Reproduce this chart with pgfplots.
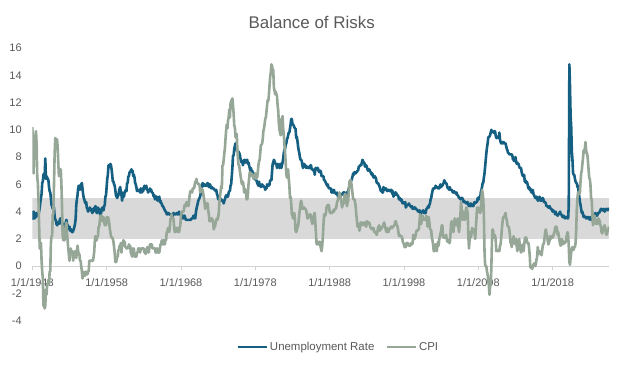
\documentclass[border=0pt]{standalone}
\usepackage{pgfplots}
\usepackage{pgfplotstable}
\pgfplotsset{compat=1.18}
\usepackage{fontspec}
\setmainfont{Liberation Sans}
\definecolor{unemp}{RGB}{21,96,130}
\definecolor{cpi}{RGB}{150,166,151}
\definecolor{band}{RGB}{217,217,217}
\definecolor{txt}{RGB}{89,89,89}
\definecolor{axln}{RGB}{210,210,210}

% Monthly US unemployment rate, Jan 1948 - Aug 2025
\pgfplotstableread[row sep=\\]{
v\\
3.4\\3.8\\4.0\\3.9\\3.5\\3.6\\3.6\\3.9\\3.8\\3.7\\3.8\\4.0\\
4.3\\4.7\\5.0\\5.3\\6.1\\6.2\\6.7\\6.8\\6.6\\7.9\\6.4\\6.6\\
6.5\\6.4\\6.3\\5.8\\5.5\\5.4\\5.0\\4.5\\4.4\\4.2\\4.2\\4.3\\
3.7\\3.4\\3.4\\3.1\\3.0\\3.2\\3.1\\3.1\\3.3\\3.5\\3.5\\3.1\\
3.2\\3.1\\2.9\\2.9\\3.0\\3.0\\3.2\\3.4\\3.1\\3.0\\2.8\\2.7\\
2.9\\2.6\\2.6\\2.7\\2.5\\2.5\\2.6\\2.7\\2.9\\3.1\\3.5\\4.5\\
4.9\\5.2\\5.7\\5.9\\5.9\\5.6\\5.8\\6.0\\6.1\\5.7\\5.3\\5.0\\
4.9\\4.7\\4.6\\4.7\\4.3\\4.2\\4.0\\4.2\\4.1\\4.3\\4.2\\4.2\\
4.0\\3.9\\4.2\\4.0\\4.3\\4.3\\4.4\\4.1\\3.9\\3.9\\4.3\\4.2\\
4.2\\3.9\\3.7\\3.9\\4.1\\4.3\\4.2\\4.1\\4.4\\4.5\\5.1\\5.2\\
5.8\\6.4\\6.7\\7.4\\7.4\\7.3\\7.5\\7.4\\7.1\\6.7\\6.2\\6.2\\
6.0\\5.9\\5.6\\5.2\\5.1\\5.0\\5.1\\5.2\\5.5\\5.7\\5.8\\5.3\\
5.2\\4.8\\5.4\\5.2\\5.1\\5.4\\5.5\\5.6\\5.5\\6.1\\6.1\\6.6\\
6.6\\6.9\\6.9\\7.0\\7.1\\6.9\\7.0\\6.6\\6.7\\6.5\\6.1\\6.0\\
5.8\\5.5\\5.6\\5.6\\5.5\\5.5\\5.4\\5.7\\5.6\\5.4\\5.7\\5.5\\
5.7\\5.9\\5.7\\5.7\\5.9\\5.6\\5.6\\5.4\\5.5\\5.5\\5.7\\5.5\\
5.6\\5.4\\5.4\\5.3\\5.1\\5.2\\4.9\\5.0\\5.1\\5.1\\4.8\\5.0\\
4.9\\5.1\\4.7\\4.8\\4.6\\4.6\\4.4\\4.4\\4.3\\4.2\\4.1\\4.0\\
4.0\\3.8\\3.8\\3.8\\3.9\\3.8\\3.8\\3.8\\3.7\\3.7\\3.6\\3.8\\
3.9\\3.8\\3.8\\3.8\\3.8\\3.9\\3.8\\3.8\\3.8\\4.0\\3.9\\3.8\\
3.7\\3.8\\3.7\\3.5\\3.5\\3.7\\3.7\\3.5\\3.4\\3.4\\3.4\\3.4\\
3.4\\3.4\\3.4\\3.4\\3.4\\3.5\\3.5\\3.5\\3.7\\3.7\\3.5\\3.5\\
3.9\\4.2\\4.4\\4.6\\4.8\\4.9\\5.0\\5.1\\5.4\\5.5\\5.9\\6.1\\
5.9\\5.9\\6.0\\5.9\\5.9\\5.9\\6.0\\6.1\\6.0\\5.8\\6.0\\6.0\\
5.8\\5.7\\5.8\\5.7\\5.7\\5.7\\5.6\\5.6\\5.5\\5.6\\5.3\\5.2\\
4.9\\5.0\\4.9\\5.0\\4.9\\4.9\\4.8\\4.8\\4.8\\4.6\\4.8\\4.9\\
5.1\\5.2\\5.1\\5.1\\5.1\\5.4\\5.5\\5.5\\5.9\\6.0\\6.6\\7.2\\
8.1\\8.1\\8.6\\8.8\\9.0\\8.8\\8.6\\8.4\\8.4\\8.4\\8.3\\8.2\\
7.9\\7.7\\7.6\\7.7\\7.4\\7.6\\7.8\\7.8\\7.6\\7.7\\7.8\\7.8\\
7.5\\7.6\\7.4\\7.2\\7.0\\7.2\\6.9\\7.0\\6.8\\6.8\\6.8\\6.4\\
6.4\\6.3\\6.3\\6.1\\6.0\\5.9\\6.2\\5.9\\6.0\\5.8\\5.9\\6.0\\
5.9\\5.9\\5.8\\5.8\\5.6\\5.7\\5.7\\6.0\\5.9\\6.0\\5.9\\6.0\\
6.3\\6.3\\6.3\\6.9\\7.5\\7.6\\7.8\\7.7\\7.5\\7.5\\7.5\\7.2\\
7.5\\7.4\\7.4\\7.2\\7.5\\7.5\\7.2\\7.4\\7.6\\7.9\\8.3\\8.5\\
8.6\\8.9\\9.0\\9.3\\9.4\\9.6\\9.8\\9.8\\10.1\\10.4\\10.8\\10.8\\
10.4\\10.4\\10.3\\10.2\\10.1\\10.1\\9.4\\9.5\\9.2\\8.8\\8.5\\8.3\\
8.0\\7.8\\7.8\\7.7\\7.4\\7.2\\7.5\\7.5\\7.3\\7.4\\7.2\\7.3\\
7.3\\7.2\\7.2\\7.3\\7.2\\7.4\\7.4\\7.1\\7.1\\7.1\\7.0\\7.0\\
6.7\\7.2\\7.2\\7.1\\7.2\\7.2\\7.0\\6.9\\7.0\\7.0\\6.9\\6.6\\
6.6\\6.6\\6.6\\6.3\\6.3\\6.2\\6.1\\6.0\\5.9\\6.0\\5.8\\5.7\\
5.7\\5.7\\5.7\\5.4\\5.6\\5.4\\5.4\\5.6\\5.4\\5.4\\5.3\\5.3\\
5.4\\5.2\\5.0\\5.2\\5.2\\5.3\\5.2\\5.2\\5.3\\5.3\\5.4\\5.4\\
5.4\\5.3\\5.2\\5.4\\5.4\\5.2\\5.5\\5.7\\5.9\\5.9\\6.2\\6.3\\
6.4\\6.6\\6.8\\6.7\\6.9\\6.9\\6.8\\6.9\\6.9\\7.0\\7.0\\7.3\\
7.3\\7.4\\7.4\\7.4\\7.6\\7.8\\7.7\\7.6\\7.6\\7.3\\7.4\\7.4\\
7.3\\7.1\\7.0\\7.1\\7.1\\7.0\\6.9\\6.8\\6.7\\6.8\\6.6\\6.5\\
6.6\\6.6\\6.5\\6.4\\6.1\\6.1\\6.1\\6.0\\5.9\\5.8\\5.6\\5.5\\
5.6\\5.4\\5.4\\5.8\\5.6\\5.6\\5.7\\5.7\\5.6\\5.5\\5.6\\5.6\\
5.6\\5.5\\5.5\\5.6\\5.6\\5.3\\5.5\\5.1\\5.2\\5.2\\5.4\\5.4\\
5.3\\5.2\\5.2\\5.1\\4.9\\5.0\\4.9\\4.8\\4.9\\4.7\\4.6\\4.7\\
4.6\\4.6\\4.7\\4.3\\4.4\\4.5\\4.5\\4.5\\4.6\\4.5\\4.4\\4.4\\
4.3\\4.4\\4.2\\4.3\\4.2\\4.3\\4.3\\4.2\\4.2\\4.1\\4.1\\4.0\\
4.0\\4.1\\4.0\\3.8\\4.0\\4.0\\4.0\\4.1\\3.9\\3.9\\3.9\\3.9\\
4.2\\4.2\\4.3\\4.4\\4.3\\4.5\\4.6\\4.9\\5.0\\5.3\\5.5\\5.7\\
5.7\\5.7\\5.7\\5.9\\5.8\\5.8\\5.8\\5.7\\5.7\\5.7\\5.9\\6.0\\
5.8\\5.9\\5.9\\6.0\\6.1\\6.3\\6.2\\6.1\\6.1\\6.0\\5.8\\5.7\\
5.7\\5.6\\5.8\\5.6\\5.6\\5.6\\5.5\\5.4\\5.4\\5.5\\5.4\\5.4\\
5.3\\5.4\\5.2\\5.2\\5.1\\5.0\\5.0\\4.9\\5.0\\5.0\\5.0\\4.9\\
4.7\\4.8\\4.7\\4.7\\4.6\\4.6\\4.7\\4.7\\4.5\\4.4\\4.5\\4.4\\
4.6\\4.5\\4.4\\4.5\\4.4\\4.6\\4.7\\4.6\\4.7\\4.7\\4.7\\5.0\\
5.0\\4.9\\5.1\\5.0\\5.4\\5.6\\5.8\\6.1\\6.1\\6.5\\6.8\\7.3\\
7.8\\8.3\\8.7\\9.0\\9.4\\9.5\\9.5\\9.6\\9.8\\10.0\\9.9\\9.9\\
9.8\\9.8\\9.9\\9.9\\9.6\\9.4\\9.4\\9.5\\9.5\\9.4\\9.8\\9.3\\
9.1\\9.0\\9.0\\9.1\\9.0\\9.1\\9.0\\9.0\\9.0\\8.8\\8.6\\8.5\\
8.3\\8.3\\8.2\\8.2\\8.2\\8.2\\8.2\\8.1\\7.8\\7.8\\7.7\\7.9\\
8.0\\7.7\\7.5\\7.6\\7.5\\7.5\\7.3\\7.2\\7.2\\7.2\\6.9\\6.7\\
6.6\\6.7\\6.7\\6.2\\6.3\\6.1\\6.2\\6.1\\5.9\\5.7\\5.8\\5.6\\
5.7\\5.5\\5.4\\5.4\\5.6\\5.3\\5.2\\5.1\\5.0\\5.0\\5.1\\5.0\\
4.8\\4.9\\5.0\\5.1\\4.8\\4.9\\4.8\\4.9\\5.0\\4.9\\4.7\\4.7\\
4.7\\4.6\\4.4\\4.4\\4.4\\4.3\\4.3\\4.4\\4.3\\4.2\\4.2\\4.1\\
4.0\\4.1\\4.0\\4.0\\3.8\\4.0\\3.8\\3.8\\3.7\\3.8\\3.8\\3.9\\
4.0\\3.8\\3.8\\3.7\\3.6\\3.6\\3.7\\3.6\\3.5\\3.6\\3.6\\3.6\\
3.5\\3.5\\4.4\\14.8\\13.2\\11.0\\10.2\\8.4\\7.8\\6.8\\6.7\\6.7\\
6.4\\6.2\\6.1\\6.1\\5.8\\5.9\\5.4\\5.1\\4.7\\4.5\\4.2\\3.9\\
4.0\\3.8\\3.6\\3.7\\3.6\\3.6\\3.5\\3.6\\3.5\\3.6\\3.6\\3.5\\
3.4\\3.6\\3.5\\3.4\\3.7\\3.6\\3.5\\3.8\\3.8\\3.9\\3.7\\3.8\\
3.7\\3.9\\3.9\\3.9\\4.0\\4.1\\4.2\\4.2\\4.1\\4.1\\4.2\\4.1\\
4.0\\4.1\\4.2\\4.2\\4.2\\4.1\\4.2\\4.2\\
}\unemptab

% Monthly CPI, year-over-year %, Jan 1948 - Aug 2025
\pgfplotstableread[row sep=\\]{
v\\
10.2\\9.3\\6.8\\8.3\\9.4\\9.5\\9.9\\8.9\\6.5\\6.1\\4.8\\3.0\\
1.3\\1.3\\1.7\\0.4\\-0.4\\-0.9\\-2.9\\-2.9\\-3.1\\-2.9\\-1.7\\-2.1\\
-1.3\\-1.3\\-1.0\\-1.3\\-0.4\\-0.4\\1.7\\2.2\\2.2\\3.8\\3.8\\5.9\\
8.1\\9.4\\9.3\\9.3\\9.3\\8.7\\7.5\\6.6\\7.0\\7.1\\7.1\\6.0\\
4.3\\2.3\\1.9\\2.3\\1.9\\2.3\\3.0\\3.2\\2.4\\1.9\\1.3\\0.9\\
0.4\\0.9\\1.3\\0.9\\1.1\\1.1\\0.4\\0.9\\0.7\\1.1\\0.7\\0.6\\
1.1\\1.5\\1.1\\0.9\\0.9\\0.4\\0.4\\0.0\\-0.4\\-0.9\\-0.4\\-0.7\\
-0.7\\-0.7\\-0.4\\-0.4\\-0.6\\-0.6\\-0.4\\-0.4\\0.4\\0.4\\0.4\\0.4\\
0.4\\0.4\\0.4\\0.7\\1.1\\1.9\\2.2\\1.9\\1.9\\2.2\\2.2\\2.9\\
2.9\\3.3\\3.7\\3.7\\3.7\\3.3\\3.3\\3.6\\3.3\\3.0\\3.3\\3.0\\
3.6\\3.2\\3.6\\3.5\\3.2\\2.8\\2.5\\2.2\\2.1\\2.1\\2.0\\1.8\\
1.4\\1.0\\0.3\\0.3\\0.4\\0.7\\0.7\\1.2\\1.2\\1.5\\1.5\\1.7\\
1.0\\1.7\\1.5\\1.9\\1.8\\1.8\\1.4\\1.4\\1.3\\1.3\\1.3\\1.4\\
1.6\\1.4\\1.5\\1.0\\0.9\\0.7\\1.3\\1.1\\1.3\\0.7\\0.7\\0.7\\
0.7\\1.0\\1.0\\1.3\\1.3\\1.3\\1.0\\1.2\\1.3\\1.3\\1.3\\1.3\\
1.3\\1.0\\1.0\\0.9\\1.0\\1.3\\1.4\\1.3\\1.0\\1.3\\1.6\\1.6\\
1.6\\1.6\\1.3\\1.3\\1.3\\1.3\\1.3\\1.0\\1.3\\1.0\\1.3\\1.0\\
1.0\\1.0\\1.3\\1.6\\1.6\\1.9\\1.6\\1.9\\1.6\\1.9\\1.6\\1.9\\
1.9\\2.5\\2.5\\2.8\\2.8\\2.5\\2.8\\3.5\\3.5\\3.8\\3.5\\3.5\\
3.5\\2.8\\2.5\\2.5\\2.8\\2.8\\2.8\\2.5\\2.8\\2.5\\2.8\\3.0\\
3.7\\4.0\\4.0\\4.0\\4.0\\4.2\\4.5\\4.5\\4.4\\4.7\\4.7\\4.7\\
4.4\\4.7\\5.2\\5.5\\5.5\\5.5\\5.4\\5.7\\5.7\\5.7\\5.9\\6.2\\
6.2\\6.4\\6.1\\6.1\\6.0\\6.0\\6.0\\5.4\\5.7\\5.7\\5.6\\5.6\\
5.3\\5.0\\4.7\\4.2\\4.4\\4.6\\4.4\\4.6\\4.1\\3.8\\3.3\\3.3\\
3.3\\3.5\\3.5\\3.4\\3.2\\2.7\\2.9\\2.9\\3.2\\3.4\\3.5\\3.4\\
3.6\\3.9\\4.6\\5.1\\5.5\\5.9\\5.7\\7.4\\7.4\\7.8\\8.3\\8.7\\
9.4\\10.0\\10.4\\10.1\\10.7\\10.9\\11.5\\10.9\\11.9\\12.1\\12.2\\12.3\\
11.8\\11.2\\10.3\\10.2\\9.5\\9.4\\9.7\\8.6\\7.9\\7.4\\7.4\\7.0\\
6.7\\6.4\\6.1\\6.0\\6.2\\5.9\\5.4\\5.7\\5.5\\5.4\\4.9\\4.9\\
5.2\\6.0\\6.4\\6.9\\6.7\\6.8\\6.8\\6.6\\6.6\\6.4\\6.7\\6.7\\
6.8\\6.4\\6.6\\6.5\\6.9\\7.4\\7.7\\7.8\\8.3\\8.9\\8.9\\9.0\\
9.3\\9.9\\10.1\\10.4\\10.8\\10.9\\11.3\\11.8\\12.2\\12.1\\12.6\\13.3\\
13.9\\14.2\\14.8\\14.7\\14.4\\14.4\\13.1\\12.9\\12.6\\12.8\\12.6\\12.5\\
11.8\\11.4\\10.5\\10.0\\9.8\\9.6\\10.8\\10.8\\11.0\\10.1\\9.6\\8.9\\
8.4\\7.6\\6.8\\6.5\\6.7\\7.1\\6.4\\5.9\\5.0\\5.1\\4.6\\3.8\\
3.7\\3.5\\3.6\\3.9\\3.5\\2.6\\2.5\\2.6\\2.9\\2.9\\3.3\\3.8\\
4.2\\4.6\\4.8\\4.6\\4.2\\4.2\\4.2\\4.3\\4.2\\4.2\\4.1\\3.9\\
3.5\\3.5\\3.7\\3.7\\3.8\\3.8\\3.6\\3.3\\3.1\\3.2\\3.6\\3.8\\
3.9\\3.1\\2.3\\1.6\\1.6\\1.8\\1.6\\1.6\\1.8\\1.5\\1.3\\1.1\\
1.5\\2.1\\3.0\\3.8\\3.8\\3.7\\3.9\\4.3\\4.4\\4.5\\4.5\\4.4\\
4.0\\3.9\\3.9\\3.9\\3.9\\4.0\\4.1\\4.0\\4.2\\4.2\\4.2\\4.4\\
4.7\\4.8\\5.0\\5.1\\5.4\\5.2\\5.0\\4.7\\4.3\\4.5\\4.7\\4.6\\
5.2\\5.3\\5.2\\4.7\\4.4\\4.7\\4.8\\5.6\\6.2\\6.3\\6.3\\6.1\\
5.7\\5.3\\4.9\\4.9\\4.9\\4.7\\4.4\\3.8\\3.4\\2.9\\2.9\\3.1\\
2.6\\2.8\\3.2\\3.2\\3.0\\3.1\\3.2\\3.1\\3.0\\3.2\\3.0\\2.9\\
3.3\\3.2\\3.1\\3.2\\3.2\\3.0\\2.8\\2.8\\2.7\\2.8\\2.7\\2.8\\
2.5\\2.5\\2.5\\2.4\\2.3\\2.5\\2.8\\2.9\\3.0\\2.6\\2.7\\2.7\\
2.8\\2.9\\2.9\\3.1\\3.2\\3.0\\2.8\\2.6\\2.5\\2.8\\2.6\\2.5\\
2.7\\2.7\\2.8\\2.9\\2.9\\2.8\\2.9\\2.9\\3.0\\3.0\\3.3\\3.3\\
3.0\\3.0\\2.8\\2.5\\2.2\\2.3\\2.2\\2.2\\2.2\\2.1\\1.8\\1.7\\
1.6\\1.4\\1.4\\1.4\\1.7\\1.7\\1.7\\1.6\\1.5\\1.5\\1.5\\1.6\\
1.7\\1.6\\1.7\\2.3\\2.1\\2.0\\2.1\\2.3\\2.6\\2.6\\2.6\\2.7\\
2.7\\3.2\\3.8\\3.1\\3.1\\3.7\\3.7\\3.4\\3.5\\3.4\\3.4\\3.4\\
3.7\\3.5\\2.9\\3.3\\3.6\\3.2\\2.7\\2.7\\2.6\\2.1\\1.9\\1.6\\
1.1\\1.1\\1.5\\1.6\\1.2\\1.1\\1.5\\1.8\\1.5\\2.0\\2.2\\2.4\\
2.6\\3.0\\3.0\\2.2\\2.1\\2.1\\2.1\\2.2\\2.3\\2.0\\1.8\\1.9\\
1.9\\1.7\\1.7\\2.3\\3.1\\3.3\\3.0\\2.7\\2.5\\3.2\\3.5\\3.3\\
3.0\\3.0\\3.1\\3.5\\2.8\\2.5\\3.2\\3.6\\4.7\\4.3\\3.5\\3.4\\
4.0\\3.6\\3.4\\3.5\\4.2\\4.3\\4.1\\3.8\\2.1\\1.3\\2.0\\2.5\\
2.1\\2.4\\2.8\\2.6\\2.7\\2.7\\2.4\\2.0\\2.8\\3.5\\4.3\\4.1\\
4.3\\4.0\\4.0\\3.9\\4.1\\5.0\\5.6\\5.4\\4.9\\3.7\\1.1\\0.1\\
0.0\\0.0\\-0.4\\-0.6\\-1.0\\-1.4\\-2.1\\-1.5\\-1.3\\-0.2\\1.8\\2.7\\
2.6\\2.1\\2.3\\2.2\\2.0\\1.1\\1.2\\1.1\\1.1\\1.2\\1.1\\1.5\\
1.6\\2.1\\2.7\\3.2\\3.6\\3.6\\3.6\\3.8\\3.9\\3.5\\3.4\\3.0\\
2.9\\2.9\\2.7\\2.3\\1.7\\1.7\\1.4\\1.7\\2.0\\2.2\\1.8\\1.7\\
1.6\\2.0\\1.5\\1.1\\1.4\\1.8\\2.0\\1.5\\1.2\\1.0\\1.2\\1.5\\
1.6\\1.1\\1.5\\2.0\\2.1\\2.1\\2.0\\1.7\\1.7\\1.7\\1.3\\0.8\\
-0.1\\0.0\\-0.1\\-0.2\\0.0\\0.1\\0.2\\0.2\\0.0\\0.2\\0.5\\0.7\\
1.4\\1.0\\0.9\\1.1\\1.0\\1.0\\0.8\\1.1\\1.5\\1.6\\1.7\\2.1\\
2.5\\2.7\\2.4\\2.2\\1.9\\1.6\\1.7\\1.9\\2.2\\2.0\\2.2\\2.1\\
2.1\\2.2\\2.4\\2.5\\2.8\\2.9\\2.9\\2.7\\2.3\\2.5\\2.2\\1.9\\
1.6\\1.5\\1.9\\2.0\\1.8\\1.6\\1.8\\1.7\\1.7\\1.8\\2.1\\2.3\\
2.5\\2.3\\1.5\\0.3\\0.1\\0.6\\1.0\\1.3\\1.4\\1.2\\1.2\\1.4\\
1.4\\1.7\\2.6\\4.2\\5.0\\5.4\\5.4\\5.3\\5.4\\6.2\\6.8\\7.0\\
7.5\\7.9\\8.5\\8.3\\8.6\\9.1\\8.5\\8.3\\8.2\\7.7\\7.1\\6.5\\
6.4\\6.0\\5.0\\4.9\\4.0\\3.0\\3.2\\3.7\\3.7\\3.2\\3.1\\3.4\\
3.1\\3.2\\3.5\\3.4\\3.3\\3.0\\2.9\\2.5\\2.4\\2.6\\2.7\\2.9\\
3.0\\2.8\\2.4\\2.3\\2.4\\2.7\\2.7\\2.9\\
}\cpitab

\begin{document}
\begin{tikzpicture}[x=1bp,y=1bp]
\useasboundingbox (-32.3,-45.3) rectangle (591.7,320.7);
\node[anchor=base, font=\fontsize{17}{20}\selectfont, text=txt] at (279.4,292.4) {Balance of Risks};
\begin{axis}[
  at={(0,0)}, anchor=south west,
  width=576.7bp, height=272.7bp, scale only axis,
  xmin=1948, xmax=2025.583, ymin=-4, ymax=16,
  axis x line*=middle, axis y line*=left,
  y axis line style={draw=none},
  x axis line style={axln, line width=0.75bp, -},
  xtick={1948,1958,1968,1978,1988,1998,2008,2018},
  xticklabels={1/1/1948,1/1/1958,1/1/1968,1/1/1978,1/1/1988,1/1/1998,1/1/2008,1/1/2018},
  ytick={-4,-2,0,2,4,6,8,10,12,14,16},
  yticklabels={-4,-2,0,2,4,6,8,10,12,14,16},
  ytick style={draw=none},
  xtick style={axln, line width=0.75bp},
  tick align=outside, major tick length=4bp,
  hide obscured x ticks=false,
  ticklabel style={font=\fontsize{11}{13}\selectfont, text=txt},
  yticklabel style={anchor=east, inner sep=0pt, xshift=-6.5bp},
  xticklabel style={anchor=north, inner sep=0pt, yshift=-8bp},
  legend style={at={(0.3544,-0.0964)}, anchor=west, draw=none, fill=none,
    inner sep=0pt, font=\fontsize{11.5}{13}\selectfont, text=txt,
    nodes={inner sep=1.5bp},
    /tikz/every even column/.append style={column sep=10bp}},
  legend columns=2,
  legend image code/.code={\draw[#1] (-1.5bp,0bp) -- (27.5bp,0bp);},
]
\addplot[fill=band, draw=none, forget plot] coordinates {(1948,2) (2025.583,2) (2025.583,5) (1948,5)} -- cycle;
\addplot[unemp, line width=2.6bp, line join=round, no markers] table[x expr=1948+\coordindex/12, y=v] {\unemptab};
\addlegendentry{Unemployment Rate}
\addplot[cpi, line width=2.6bp, line join=round, no markers] table[x expr=1948+\coordindex/12, y=v] {\cpitab};
\addlegendentry{CPI}
\end{axis}
\end{tikzpicture}
\end{document}
